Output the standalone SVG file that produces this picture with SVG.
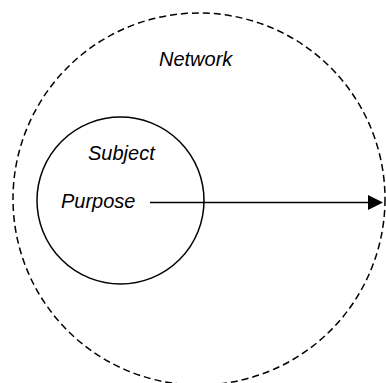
<svg xmlns="http://www.w3.org/2000/svg" width="386" height="383" viewBox="0 0 386 383">
<style>
.lbl{font-family:"Liberation Sans",Arial,sans-serif;font-style:italic;font-size:20px;fill:#000}
.ring{fill:none;stroke:#000;stroke-width:1.5}
.edge{stroke:#000;stroke-width:1.5;fill:none}
.head{fill:#000}
</style>
<rect width="386" height="383" fill="#fff"/>
<g id="network">
<circle class="ring" cx="199" cy="199" r="186" stroke-dasharray="7,4"/>
<text class="lbl" x="159" y="65.5">Network</text>
</g>
<g id="subject">
<circle class="ring" cx="120.5" cy="200.5" r="83.5"/>
<text class="lbl" x="88" y="160">Subject</text>
<text class="lbl" x="61" y="208">Purpose</text>
</g>
<g id="connectors">
<path class="edge" d="M150,202.5 L369,202.5"/>
<path class="head" d="M368,195 L383,202.5 L368,210 Z"/>
</g>
</svg>
